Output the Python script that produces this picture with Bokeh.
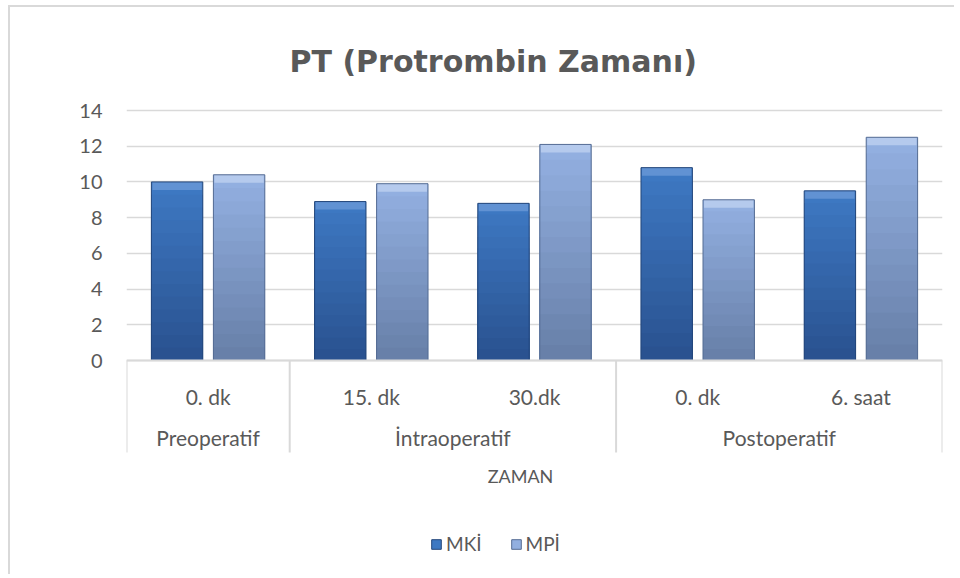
import numpy as np
from bokeh.plotting import figure
from bokeh.models import (FactorRange, FixedTicker, ColumnDataSource, Legend,
                          LegendItem, Label, Range1d)
from bokeh.core.properties import value
from bokeh.embed import file_html
from bokeh.resources import INLINE
from bokeh.transform import dodge

# ---------------- data ----------------
groups = ["Preoperatif", "İntraoperatif", "İntraoperatif", "Postoperatif", "Postoperatif"]
times = ["0. dk", "15. dk", "30.dk", "0. dk", "6. saat"]
mki = [10.0, 8.9, 8.8, 10.8, 9.5]
mpi = [10.4, 9.9, 12.1, 9.0, 12.5]
y_ticks = [0, 2, 4, 6, 8, 10, 12, 14]
series_names = ["MKİ", "MPİ"]
title_text = "PT (Protrombin Zamanı)"
y_label = "saniye"
x_label = "ZAMAN"

# ---------------- style ----------------
FONT = "Lato"
TXT = "#595959"
GRID = "#d9d9d9"
PX_PER_UNIT = 250 / 14.0
FRAME_TOP, FRAME_BOTTOM, ZERO_Y = 100, 565, 361   # page pixels

factors = list(zip(groups, times))
group_order = list(dict.fromkeys(groups))
group_sizes = [groups.count(g) for g in group_order]
bounds = np.concatenate([[0], np.cumsum(group_sizes)]).astype(float)

x_range = FactorRange(*factors, factor_padding=0, group_padding=0, range_padding=0)
y_range = Range1d(-(FRAME_BOTTOM - ZERO_Y) / PX_PER_UNIT, (ZERO_Y - FRAME_TOP) / PX_PER_UNIT)

p = figure(width=946, height=569, x_range=x_range, y_range=y_range,
           output_backend="svg", toolbar_location=None, x_axis_location=None,
           min_border_left=116, min_border_right=14, min_border_top=92,
           min_border_bottom=12)
p.outline_line_color = None
p.background_fill_color = "white"
p.border_fill_color = "white"
p.styles = {"border-left": "2px solid #d9d9d9", "border-top": "2px solid #d9d9d9",
            "margin-left": "8px", "margin-top": "5px"}

# title: centred over the whole chart area (left-aligned with an offset)
p.title.text = title_text
p.title.align = "left"
p.title.offset = 163
p.title.standoff = 42
p.title.text_font = "DejaVu Sans"
p.title.text_font_size = "30px"
p.title.text_font_style = "bold"
p.title.text_color = TXT

p.xgrid.visible = False
p.ygrid.ticker = FixedTicker(ticks=y_ticks)
p.ygrid.grid_line_color = GRID
p.ygrid.grid_line_width = 1.5

p.yaxis.ticker = FixedTicker(ticks=y_ticks)
p.yaxis.axis_line_color = None
p.yaxis.major_tick_line_color = None
p.yaxis.minor_tick_line_color = None
p.yaxis.major_label_standoff = 18
p.yaxis.major_label_text_font = FONT
p.yaxis.major_label_text_font_size = "20px"
p.yaxis.major_label_text_color = TXT

# ---------------- bars ----------------
colors = {
    "MKİ": dict(top="#3d78c2", bottom="#2a5290", bevel="#6d9bd8", line="#23467a"),
    "MPİ": dict(top="#92afe0", bottom="#6880a9", bevel="#c0d3f2", line="#556c93"),
}
offsets = [-0.19, 0.19]
BAR_W = 0.315
N_BANDS = 14


def mix(c1, c2, t):
    a = np.array([int(c1[i:i + 2], 16) for i in (1, 3, 5)])
    b = np.array([int(c2[i:i + 2], 16) for i in (1, 3, 5)])
    c = np.round(a + (b - a) * t).astype(int)
    return "#%02x%02x%02x" % tuple(c)


legend_items = []
for name, vals, off in zip(series_names, [mki, mpi], offsets):
    col = colors[name]
    vals = np.array(vals, dtype=float)
    xd = dodge("x", off, range=p.x_range)
    first = None
    for k in range(N_BANDS):
        frac = 1 - k / N_BANDS
        src = ColumnDataSource(dict(x=factors, top=vals * frac))
        r = p.vbar(x=xd, top="top", width=BAR_W, bottom=0, source=src,
                   fill_color=mix(col["top"], col["bottom"], k / (N_BANDS - 1)),
                   line_color=None)
        if first is None:
            first = r
    bevel = 8 / PX_PER_UNIT
    src_b = ColumnDataSource(dict(x=factors, top=vals, bottom=vals - bevel))
    p.vbar(x=xd, top="top", bottom="bottom", width=BAR_W * 0.96, source=src_b,
           fill_color=col["bevel"], line_color=None, fill_alpha=0.75)
    src_o = ColumnDataSource(dict(x=factors, top=vals))
    outline = p.vbar(x=xd, top="top", bottom=0, width=BAR_W, source=src_o,
                     fill_alpha=0, line_color=col["line"], line_width=1)
    legend_items.append(LegendItem(label=name, renderers=[first, outline]))

# ---------------- category table ----------------
table_bottom = -(453 - ZERO_Y) / PX_PER_UNIT
p.segment(x0=[bounds[0]], x1=[bounds[-1]], y0=[0], y1=[0],
          line_color=GRID, line_width=2)
p.segment(x0=bounds, x1=bounds, y0=[0] * len(bounds), y1=[table_bottom] * len(bounds),
          line_color=GRID, line_width=2)

p.text(x=factors, y=[-(397 - ZERO_Y) / PX_PER_UNIT] * len(factors), text=times,
       text_font=value(FONT), text_font_size="21px", text_color=TXT,
       text_align="center", text_baseline="middle")
p.text(x=group_order, y=[-(438 - ZERO_Y) / PX_PER_UNIT] * len(group_order), text=group_order,
       text_font=value(FONT), text_font_size="21px", text_color=TXT,
       text_align="center", text_baseline="middle")
p.text(x=[(520 - 126) / 163.2], y=[-(476 - ZERO_Y) / PX_PER_UNIT], text=[x_label],
       text_font=value(FONT), text_font_size="18px", text_color=TXT,
       text_align="center", text_baseline="middle")

# y axis title
p.add_layout(Label(x=-62, x_units="screen", y=7, y_units="data", text=y_label,
                   angle=np.pi / 2, text_align="center", text_baseline="middle",
                   text_font=FONT, text_font_size="18px", text_color=TXT))

# ---------------- legend ----------------
legend = Legend(items=legend_items, orientation="horizontal",
                location=(430 - 126, FRAME_BOTTOM - 546 - 10), padding=0, margin=0,
                spacing=28, glyph_width=12, glyph_height=12, label_standoff=4,
                label_text_font=FONT, label_text_font_size="19px",
                label_text_color=TXT, border_line_color=None,
                background_fill_alpha=0)
p.add_layout(legend, "center")

open("out.html", "w").write(file_html(p, INLINE))
